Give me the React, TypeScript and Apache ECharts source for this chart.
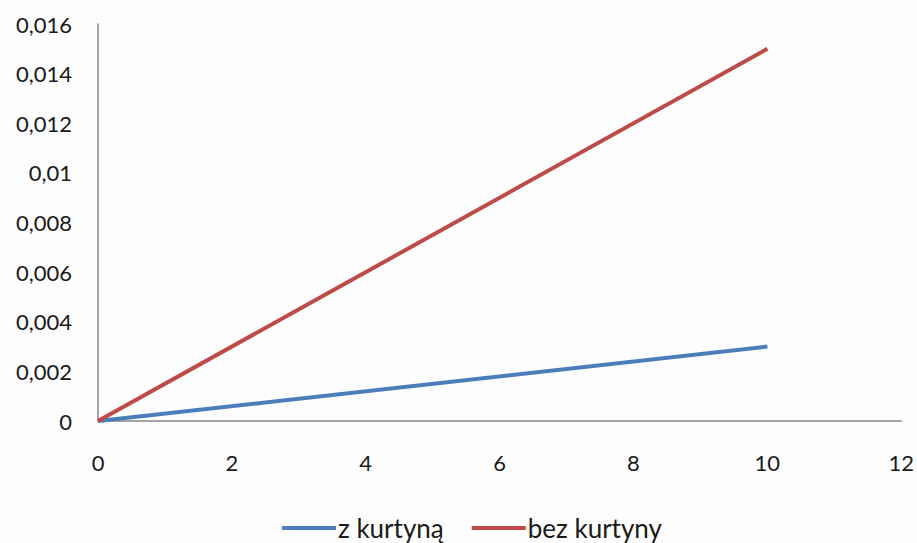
import React, { useEffect, useRef } from "react";
import * as echarts from "echarts";

const xValues = [0, 10];
const zKurtyna = [0, 0.003];
const bezKurtyny = [0, 0.015];
const seriesNames = ["z kurtyną", "bez kurtyny"];

const fmt = (v: number) => {
  if (v === 0) return "0";
  return parseFloat(v.toFixed(3)).toString().replace(".", ",");
};

export default function App() {
  const ref = useRef<HTMLDivElement>(null);
  useEffect(() => {
    if (!ref.current) return;
    const chart = echarts.init(ref.current, undefined, { renderer: "svg" });
    const font = "Lato, 'Open Sans', sans-serif";
    chart.setOption({
      animation: false,
      backgroundColor: "#fdfdfd",
      grid: { left: 98, right: 15, top: 24, bottom: 122 },
      legend: {
        bottom: -3,
        left: 277,
        itemWidth: 54,
        itemHeight: 4,
        itemGap: 28,
        icon: "rect",
        textStyle: { fontFamily: font, fontSize: 26, color: "#1a1a1a", padding: [0, 0, 0, -3] },
        data: seriesNames,
      },
      xAxis: {
        type: "value",
        min: 0,
        max: 12,
        interval: 2,
        axisLine: { show: true, lineStyle: { color: "#888", width: 1.5 } },
        axisTick: { show: false },
        splitLine: { show: false },
        axisLabel: { fontFamily: font, fontSize: 22, color: "#1a1a1a", margin: 30 },
      },
      yAxis: {
        type: "value",
        min: 0,
        max: 0.016,
        interval: 0.002,
        axisLine: { show: true, lineStyle: { color: "#888", width: 1.5 } },
        axisTick: { show: false },
        splitLine: { show: false },
        axisLabel: { fontFamily: font, fontSize: 22, color: "#1a1a1a", margin: 26, formatter: fmt },
      },
      series: [
        {
          name: seriesNames[0],
          type: "line",
          data: xValues.map((x, i) => [x, zKurtyna[i]]),
          showSymbol: false,
          lineStyle: { color: "#4a7ebb", width: 4 },
          itemStyle: { color: "#4a7ebb" },
        },
        {
          name: seriesNames[1],
          type: "line",
          data: xValues.map((x, i) => [x, bezKurtyny[i]]),
          showSymbol: false,
          lineStyle: { color: "#be4b48", width: 4 },
          itemStyle: { color: "#be4b48" },
        },
      ],
    });
    return () => chart.dispose();
  }, []);
  return <div ref={ref} style={{ width: 917, height: 543, position: "absolute", left: 0, top: 0 }} />;
}
